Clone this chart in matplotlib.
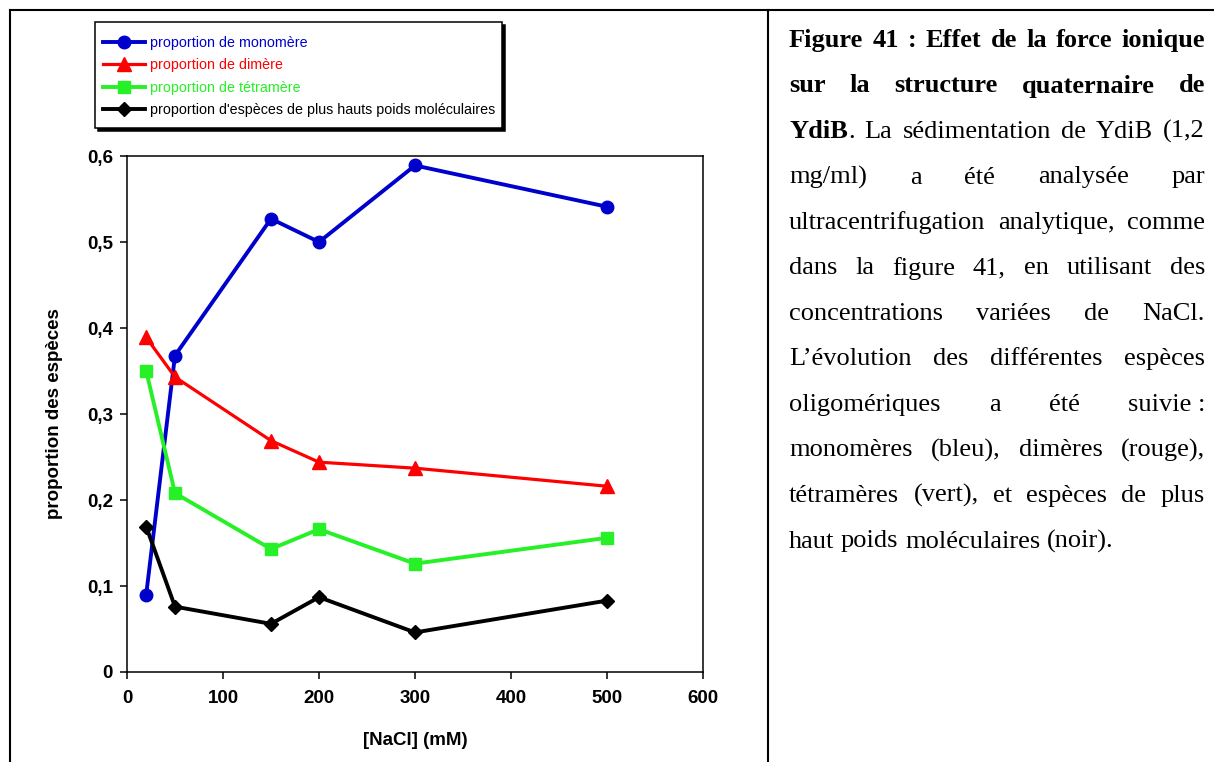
import matplotlib
matplotlib.use("Agg")
import matplotlib.pyplot as plt
from matplotlib.lines import Line2D
from matplotlib.patches import Rectangle

# [NaCl] en mM
nacl = [20, 50, 150, 200, 300, 500]

# proportions
monomere = [0.090, 0.368, 0.527, 0.500, 0.589, 0.541]
dimere = [0.389, 0.343, 0.269, 0.244, 0.237, 0.216]
tetramere = [0.350, 0.208, 0.143, 0.166, 0.126, 0.156]
hauts_pm = [0.169, 0.076, 0.056, 0.087, 0.046, 0.083]

labels = ["proportion de monomère",
          "proportion de dimère",
          "proportion de tétramère",
          "proportion d'espèces de plus hauts poids moléculaires"]

xticks = [0, 100, 200, 300, 400, 500, 600]
yticks = [0, 0.1, 0.2, 0.3, 0.4, 0.5, 0.6]
ytick_labels = ["0", "0,1", "0,2", "0,3", "0,4", "0,5", "0,6"]

caption_lines = [
    "**Figure 41 : Effet de la force ionique",
    "sur la structure quaternaire de",
    "YdiB**. La sédimentation de YdiB (1,2",
    "mg/ml) a été analysée par",
    "ultracentrifugation analytique, comme",
    "dans la figure 41, en utilisant des",
    "concentrations variées de NaCl.",
    "L’évolution des différentes espèces",
    "oligomériques a été suivie\u00a0:",
    "monomères (bleu), dimères (rouge),",
    "tétramères (vert), et espèces de plus",
    "haut poids moléculaires (noir).",
]

W, H = 1214, 762
fig = plt.figure(figsize=(W / 100, H / 100), dpi=100)
ax = fig.add_axes([127 / W, 1 - 672 / H, 576 / W, 516 / H])

blue, red, green = "#0000cc", "#ff0000", "#26f026"
ax.plot(nacl, monomere, color=blue, lw=2.8, marker="o", ms=9, label=labels[0])
ax.plot(nacl, dimere, color=red, lw=2.3, marker="^", ms=9.5, label=labels[1])
ax.plot(nacl, tetramere, color=green, lw=2.8, marker="s", ms=9, label=labels[2])
ax.plot(nacl, hauts_pm, color="black", lw=2.8, marker="D", ms=7, label=labels[3])

ax.set_xlim(0, 600)
ax.set_ylim(0, 0.6)
ax.set_xticks(xticks)
ax.set_yticks(yticks)
ax.set_yticklabels(ytick_labels)
for lab in ax.get_xticklabels() + ax.get_yticklabels():
    lab.set_fontfamily("Liberation Sans")
    lab.set_fontweight("bold")
    lab.set_fontsize(13.5)
ax.tick_params(axis="both", direction="out", length=5, width=1.1)
ax.tick_params(axis="x", pad=8)
ax.tick_params(axis="y", pad=5)
for sp in ax.spines.values():
    sp.set_linewidth(1.1)

lab_font = dict(family="Liberation Sans", weight="bold", size=13.5)
ax.set_xlabel("[NaCl] (mM)", va="center", **lab_font)
ax.set_ylabel("proportion des espèces", va="center", **lab_font)
ax.xaxis.set_label_coords(0.5, -0.132)
ax.yaxis.set_label_coords(-0.125, 0.5)

# cadre de la légende avec ombre
fig.add_artist(Rectangle((98 / W, 1 - 131 / H), 407 / W, 106 / H,
                         transform=fig.transFigure, facecolor="black",
                         edgecolor="black", lw=1.1, zorder=4))
fig.add_artist(Rectangle((95 / W, 1 - 128 / H), 407 / W, 106 / H,
                         transform=fig.transFigure, facecolor="white",
                         edgecolor="black", lw=1.1, zorder=4.5))
handles, _ = ax.get_legend_handles_labels()
leg = fig.legend(handles, labels, loc="center left",
                 bbox_to_anchor=(103 / W, 1 - 76.5 / H), borderaxespad=0,
                 borderpad=0, prop={"family": "Liberation Sans", "size": 10.3},
                 handlelength=2.95, handletextpad=0.35, labelspacing=0.6,
                 frameon=False)
leg.set_zorder(5)
for t, c in zip(leg.get_texts(), [blue, red, green, "black"]):
    t.set_color(c)

# cadre du tableau
for xs, ys in [([10, 10], [10, H]), ([10, W], [10, 10]), ([768, 768], [10, H])]:
    fig.add_artist(Line2D([x / W for x in xs], [1 - y / H for y in ys],
                          transform=fig.transFigure, color="black", lw=1.5))

# légende de la figure, texte justifié
renderer = fig.canvas.get_renderer()
cap_font = dict(family="Liberation Serif", size=19)
cap_left, cap_right = 789, 1205
probe = fig.text(0, 0, "a a", **cap_font)
w2 = probe.get_window_extent(renderer).width
probe.set_text("aa")
space_w = w2 - probe.get_window_extent(renderer).width
probe.remove()

bold = False
for i, line in enumerate(caption_lines):
    y = 1 - (47 + i * 45.5) / H
    words, widths = [], []
    for token in line.split(" "):
        segs, w = [], 0
        for k, part in enumerate(token.split("**")):
            if k > 0:
                bold = not bold
            if part:
                t = fig.text(0, y, part, va="baseline",
                             weight="bold" if bold else "normal", **cap_font)
                segs.append((t, w))
                w += t.get_window_extent(renderer).width
        words.append(segs)
        widths.append(w)
    if i == len(caption_lines) - 1:
        gap = space_w
    else:
        gap = (cap_right - cap_left - sum(widths)) / (len(words) - 1)
    x = cap_left
    for segs, w in zip(words, widths):
        for t, off in segs:
            t.set_x((x + off) / W)
        x += w + gap

fig.savefig("out.png", dpi=100)
